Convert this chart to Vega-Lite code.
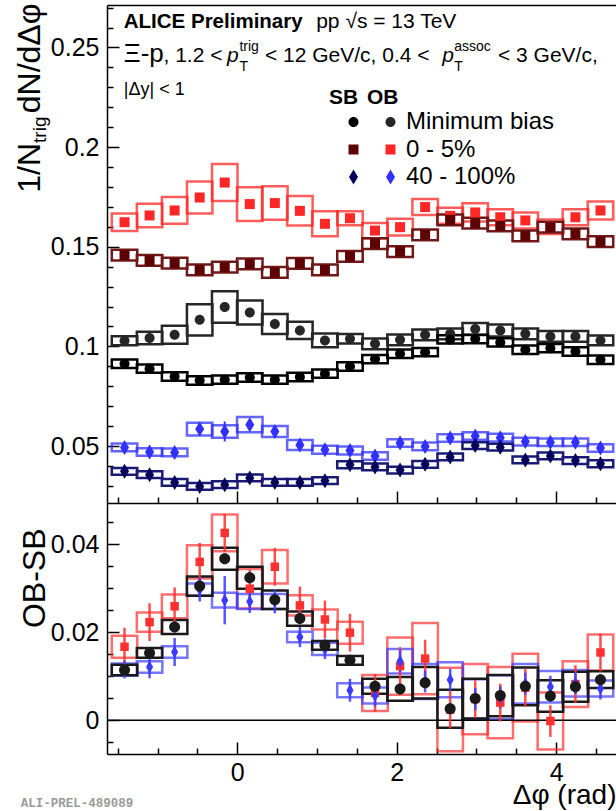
{
  "$schema": "https://vega.github.io/schema/vega-lite/v6.json",
  "padding": {"left": 12, "top": 3, "right": 0, "bottom": 0},
  "background": "white",
  "spacing": 0,
  "bounds": "flush",
  "resolve": {"scale": {"color": "independent", "shape": "independent"}},
  "datasets": {
    "sb": [
      {"c":"Minimum bias","phi":-1.4137,"y":0.0913,"e":0.0008,"s":0.0021},
      {"c":"Minimum bias","phi":-1.0996,"y":0.0888,"e":0.0008,"s":0.0021},
      {"c":"Minimum bias","phi":-0.7854,"y":0.0849,"e":0.0008,"s":0.0021},
      {"c":"Minimum bias","phi":-0.4712,"y":0.0829,"e":0.0008,"s":0.0021},
      {"c":"Minimum bias","phi":-0.1571,"y":0.0833,"e":0.0008,"s":0.0021},
      {"c":"Minimum bias","phi":0.1571,"y":0.0844,"e":0.0008,"s":0.0021},
      {"c":"Minimum bias","phi":0.4712,"y":0.0833,"e":0.0008,"s":0.0021},
      {"c":"Minimum bias","phi":0.7854,"y":0.0846,"e":0.0008,"s":0.0021},
      {"c":"Minimum bias","phi":1.0996,"y":0.0863,"e":0.0008,"s":0.0021},
      {"c":"Minimum bias","phi":1.4137,"y":0.0899,"e":0.0008,"s":0.0021},
      {"c":"Minimum bias","phi":1.7279,"y":0.0936,"e":0.0008,"s":0.0021},
      {"c":"Minimum bias","phi":2.0420,"y":0.0963,"e":0.0008,"s":0.0021},
      {"c":"Minimum bias","phi":2.3562,"y":0.0971,"e":0.0008,"s":0.0021},
      {"c":"Minimum bias","phi":2.6704,"y":0.1035,"e":0.0008,"s":0.0021},
      {"c":"Minimum bias","phi":2.9845,"y":0.1037,"e":0.0008,"s":0.0021},
      {"c":"Minimum bias","phi":3.2987,"y":0.1020,"e":0.0008,"s":0.0021},
      {"c":"Minimum bias","phi":3.6128,"y":0.0983,"e":0.0008,"s":0.0021},
      {"c":"Minimum bias","phi":3.9270,"y":0.0991,"e":0.0008,"s":0.0021},
      {"c":"Minimum bias","phi":4.2412,"y":0.0974,"e":0.0008,"s":0.0021},
      {"c":"Minimum bias","phi":4.5553,"y":0.0933,"e":0.0008,"s":0.0021},
      {"c":"0 - 5%","phi":-1.4137,"y":0.1458,"e":0.0012,"s":0.0027},
      {"c":"0 - 5%","phi":-1.0996,"y":0.1431,"e":0.0012,"s":0.0027},
      {"c":"0 - 5%","phi":-0.7854,"y":0.1418,"e":0.0012,"s":0.0027},
      {"c":"0 - 5%","phi":-0.4712,"y":0.1384,"e":0.0012,"s":0.0027},
      {"c":"0 - 5%","phi":-0.1571,"y":0.1398,"e":0.0012,"s":0.0027},
      {"c":"0 - 5%","phi":0.1571,"y":0.1414,"e":0.0012,"s":0.0027},
      {"c":"0 - 5%","phi":0.4712,"y":0.1371,"e":0.0012,"s":0.0027},
      {"c":"0 - 5%","phi":0.7854,"y":0.1416,"e":0.0012,"s":0.0027},
      {"c":"0 - 5%","phi":1.0996,"y":0.1384,"e":0.0012,"s":0.0027},
      {"c":"0 - 5%","phi":1.4137,"y":0.1451,"e":0.0012,"s":0.0027},
      {"c":"0 - 5%","phi":1.7279,"y":0.1515,"e":0.0012,"s":0.0027},
      {"c":"0 - 5%","phi":2.0420,"y":0.1476,"e":0.0012,"s":0.0027},
      {"c":"0 - 5%","phi":2.3562,"y":0.1560,"e":0.0012,"s":0.0027},
      {"c":"0 - 5%","phi":2.6704,"y":0.1635,"e":0.0012,"s":0.0027},
      {"c":"0 - 5%","phi":2.9845,"y":0.1618,"e":0.0012,"s":0.0027},
      {"c":"0 - 5%","phi":3.2987,"y":0.1605,"e":0.0012,"s":0.0027},
      {"c":"0 - 5%","phi":3.6128,"y":0.1555,"e":0.0012,"s":0.0027},
      {"c":"0 - 5%","phi":3.9270,"y":0.1598,"e":0.0012,"s":0.0027},
      {"c":"0 - 5%","phi":4.2412,"y":0.1565,"e":0.0012,"s":0.0027},
      {"c":"0 - 5%","phi":4.5553,"y":0.1526,"e":0.0012,"s":0.0027},
      {"c":"40 - 100%","phi":-1.4137,"y":0.0373,"e":0.0010,"s":0.0017},
      {"c":"40 - 100%","phi":-1.0996,"y":0.0356,"e":0.0010,"s":0.0017},
      {"c":"40 - 100%","phi":-0.7854,"y":0.0317,"e":0.0010,"s":0.0017},
      {"c":"40 - 100%","phi":-0.4712,"y":0.0297,"e":0.0010,"s":0.0017},
      {"c":"40 - 100%","phi":-0.1571,"y":0.0306,"e":0.0010,"s":0.0017},
      {"c":"40 - 100%","phi":0.1571,"y":0.0340,"e":0.0010,"s":0.0017},
      {"c":"40 - 100%","phi":0.4712,"y":0.0317,"e":0.0010,"s":0.0017},
      {"c":"40 - 100%","phi":0.7854,"y":0.0317,"e":0.0010,"s":0.0017},
      {"c":"40 - 100%","phi":1.0996,"y":0.0326,"e":0.0010,"s":0.0017},
      {"c":"40 - 100%","phi":1.4137,"y":0.0406,"e":0.0010,"s":0.0017},
      {"c":"40 - 100%","phi":1.7279,"y":0.0395,"e":0.0010,"s":0.0017},
      {"c":"40 - 100%","phi":2.0420,"y":0.0379,"e":0.0010,"s":0.0017},
      {"c":"40 - 100%","phi":2.3562,"y":0.0408,"e":0.0010,"s":0.0017},
      {"c":"40 - 100%","phi":2.6704,"y":0.0445,"e":0.0010,"s":0.0017},
      {"c":"40 - 100%","phi":2.9845,"y":0.0502,"e":0.0010,"s":0.0017},
      {"c":"40 - 100%","phi":3.2987,"y":0.0494,"e":0.0010,"s":0.0017},
      {"c":"40 - 100%","phi":3.6128,"y":0.0430,"e":0.0010,"s":0.0017},
      {"c":"40 - 100%","phi":3.9270,"y":0.0450,"e":0.0010,"s":0.0017},
      {"c":"40 - 100%","phi":4.2412,"y":0.0427,"e":0.0010,"s":0.0017},
      {"c":"40 - 100%","phi":4.5553,"y":0.0411,"e":0.0010,"s":0.0017}
    ],
    "ob": [
      {"c":"Minimum bias","phi":-1.4137,"y":0.1028,"e":0.0010,"s":0.0023},
      {"c":"Minimum bias","phi":-1.0996,"y":0.1042,"e":0.0010,"s":0.0031},
      {"c":"Minimum bias","phi":-0.7854,"y":0.1058,"e":0.0010,"s":0.0045},
      {"c":"Minimum bias","phi":-0.4712,"y":0.1133,"e":0.0010,"s":0.0078},
      {"c":"Minimum bias","phi":-0.1571,"y":0.1197,"e":0.0010,"s":0.0079},
      {"c":"Minimum bias","phi":0.1571,"y":0.1170,"e":0.0010,"s":0.0060},
      {"c":"Minimum bias","phi":0.4712,"y":0.1112,"e":0.0010,"s":0.0050},
      {"c":"Minimum bias","phi":0.7854,"y":0.1080,"e":0.0010,"s":0.0043},
      {"c":"Minimum bias","phi":1.0996,"y":0.1030,"e":0.0010,"s":0.0035},
      {"c":"Minimum bias","phi":1.4137,"y":0.1038,"e":0.0010,"s":0.0024},
      {"c":"Minimum bias","phi":1.7279,"y":0.1013,"e":0.0010,"s":0.0027},
      {"c":"Minimum bias","phi":2.0420,"y":0.1033,"e":0.0010,"s":0.0027},
      {"c":"Minimum bias","phi":2.3562,"y":0.1058,"e":0.0010,"s":0.0027},
      {"c":"Minimum bias","phi":2.6704,"y":0.1063,"e":0.0010,"s":0.0027},
      {"c":"Minimum bias","phi":2.9845,"y":0.1087,"e":0.0010,"s":0.0030},
      {"c":"Minimum bias","phi":3.2987,"y":0.1080,"e":0.0010,"s":0.0030},
      {"c":"Minimum bias","phi":3.6128,"y":0.1063,"e":0.0010,"s":0.0027},
      {"c":"Minimum bias","phi":3.9270,"y":0.1050,"e":0.0010,"s":0.0027},
      {"c":"Minimum bias","phi":4.2412,"y":0.1050,"e":0.0010,"s":0.0027},
      {"c":"Minimum bias","phi":4.5553,"y":0.1030,"e":0.0010,"s":0.0025},
      {"c":"0 - 5%","phi":-1.4137,"y":0.1623,"e":0.0017,"s":0.0044},
      {"c":"0 - 5%","phi":-1.0996,"y":0.1657,"e":0.0017,"s":0.0059},
      {"c":"0 - 5%","phi":-0.7854,"y":0.1682,"e":0.0017,"s":0.0067},
      {"c":"0 - 5%","phi":-0.4712,"y":0.1747,"e":0.0017,"s":0.0080},
      {"c":"0 - 5%","phi":-0.1571,"y":0.1822,"e":0.0017,"s":0.0093},
      {"c":"0 - 5%","phi":0.1571,"y":0.1714,"e":0.0017,"s":0.0085},
      {"c":"0 - 5%","phi":0.4712,"y":0.1719,"e":0.0017,"s":0.0084},
      {"c":"0 - 5%","phi":0.7854,"y":0.1680,"e":0.0017,"s":0.0074},
      {"c":"0 - 5%","phi":1.0996,"y":0.1615,"e":0.0017,"s":0.0063},
      {"c":"0 - 5%","phi":1.4137,"y":0.1643,"e":0.0017,"s":0.0035},
      {"c":"0 - 5%","phi":1.7279,"y":0.1581,"e":0.0017,"s":0.0038},
      {"c":"0 - 5%","phi":2.0420,"y":0.1598,"e":0.0017,"s":0.0042},
      {"c":"0 - 5%","phi":2.3562,"y":0.1699,"e":0.0017,"s":0.0040},
      {"c":"0 - 5%","phi":2.6704,"y":0.1655,"e":0.0017,"s":0.0040},
      {"c":"0 - 5%","phi":2.9845,"y":0.1672,"e":0.0017,"s":0.0046},
      {"c":"0 - 5%","phi":3.2987,"y":0.1648,"e":0.0017,"s":0.0040},
      {"c":"0 - 5%","phi":3.6128,"y":0.1632,"e":0.0017,"s":0.0040},
      {"c":"0 - 5%","phi":3.9270,"y":0.1600,"e":0.0017,"s":0.0036},
      {"c":"0 - 5%","phi":4.2412,"y":0.1648,"e":0.0017,"s":0.0040},
      {"c":"0 - 5%","phi":4.5553,"y":0.1682,"e":0.0017,"s":0.0045},
      {"c":"40 - 100%","phi":-1.4137,"y":0.0493,"e":0.0012,"s":0.0019},
      {"c":"40 - 100%","phi":-1.0996,"y":0.0470,"e":0.0012,"s":0.0019},
      {"c":"40 - 100%","phi":-0.7854,"y":0.0468,"e":0.0012,"s":0.0019},
      {"c":"40 - 100%","phi":-0.4712,"y":0.0585,"e":0.0012,"s":0.0032},
      {"c":"40 - 100%","phi":-0.1571,"y":0.0573,"e":0.0050,"s":0.0031},
      {"c":"40 - 100%","phi":0.1571,"y":0.0607,"e":0.0012,"s":0.0038},
      {"c":"40 - 100%","phi":0.4712,"y":0.0573,"e":0.0012,"s":0.0028},
      {"c":"40 - 100%","phi":0.7854,"y":0.0505,"e":0.0012,"s":0.0025},
      {"c":"40 - 100%","phi":1.0996,"y":0.0481,"e":0.0012,"s":0.0020},
      {"c":"40 - 100%","phi":1.4137,"y":0.0478,"e":0.0012,"s":0.0020},
      {"c":"40 - 100%","phi":1.7279,"y":0.0450,"e":0.0012,"s":0.0019},
      {"c":"40 - 100%","phi":2.0420,"y":0.0515,"e":0.0012,"s":0.0019},
      {"c":"40 - 100%","phi":2.3562,"y":0.0498,"e":0.0012,"s":0.0019},
      {"c":"40 - 100%","phi":2.6704,"y":0.0540,"e":0.0012,"s":0.0019},
      {"c":"40 - 100%","phi":2.9845,"y":0.0550,"e":0.0012,"s":0.0019},
      {"c":"40 - 100%","phi":3.2987,"y":0.0542,"e":0.0012,"s":0.0019},
      {"c":"40 - 100%","phi":3.6128,"y":0.0522,"e":0.0012,"s":0.0019},
      {"c":"40 - 100%","phi":3.9270,"y":0.0519,"e":0.0012,"s":0.0019},
      {"c":"40 - 100%","phi":4.2412,"y":0.0519,"e":0.0012,"s":0.0019},
      {"c":"40 - 100%","phi":4.5553,"y":0.0490,"e":0.0012,"s":0.0019}
    ],
    "diff": [
      {"c":"0 - 5%","phi":-1.4137,"y":0.0167,"e":0.0043,"s":0.0025},
      {"c":"0 - 5%","phi":-1.0996,"y":0.0223,"e":0.0043,"s":0.0022},
      {"c":"0 - 5%","phi":-0.7854,"y":0.0259,"e":0.0043,"s":0.0027},
      {"c":"0 - 5%","phi":-0.4712,"y":0.0360,"e":0.0043,"s":0.0038},
      {"c":"0 - 5%","phi":-0.1571,"y":0.0426,"e":0.0043,"s":0.0042},
      {"c":"0 - 5%","phi":0.1571,"y":0.0299,"e":0.0043,"s":0.0045},
      {"c":"0 - 5%","phi":0.4712,"y":0.0349,"e":0.0043,"s":0.0038},
      {"c":"0 - 5%","phi":0.7854,"y":0.0261,"e":0.0043,"s":0.0023},
      {"c":"0 - 5%","phi":1.0996,"y":0.0229,"e":0.0043,"s":0.0023},
      {"c":"0 - 5%","phi":1.4137,"y":0.0199,"e":0.0043,"s":0.0025},
      {"c":"0 - 5%","phi":1.7279,"y":0.0062,"e":0.0043,"s":0.0041},
      {"c":"0 - 5%","phi":2.0420,"y":0.0123,"e":0.0043,"s":0.0065},
      {"c":"0 - 5%","phi":2.3562,"y":0.0140,"e":0.0043,"s":0.0081},
      {"c":"0 - 5%","phi":2.6704,"y":0.0024,"e":0.0043,"s":0.0095},
      {"c":"0 - 5%","phi":2.9845,"y":0.0048,"e":0.0043,"s":0.0080},
      {"c":"0 - 5%","phi":3.2987,"y":0.0040,"e":0.0043,"s":0.0081},
      {"c":"0 - 5%","phi":3.6128,"y":0.0074,"e":0.0043,"s":0.0077},
      {"c":"0 - 5%","phi":3.9270,"y":-0.0002,"e":0.0036,"s":0.0065},
      {"c":"0 - 5%","phi":4.2412,"y":0.0082,"e":0.0043,"s":0.0052},
      {"c":"0 - 5%","phi":4.5553,"y":0.0154,"e":0.0043,"s":0.0041},
      {"c":"40 - 100%","phi":-1.4137,"y":0.0115,"e":0.0020,"s":0.0014},
      {"c":"40 - 100%","phi":-1.0996,"y":0.0121,"e":0.0026,"s":0.0013},
      {"c":"40 - 100%","phi":-0.7854,"y":0.0155,"e":0.0032,"s":0.0013},
      {"c":"40 - 100%","phi":-0.4712,"y":0.0297,"e":0.0027,"s":0.0014},
      {"c":"40 - 100%","phi":-0.1571,"y":0.0273,"e":0.0055,"s":0.0017},
      {"c":"40 - 100%","phi":0.1571,"y":0.0270,"e":0.0026,"s":0.0017},
      {"c":"40 - 100%","phi":0.4712,"y":0.0270,"e":0.0027,"s":0.0017},
      {"c":"40 - 100%","phi":0.7854,"y":0.0189,"e":0.0023,"s":0.0012},
      {"c":"40 - 100%","phi":1.0996,"y":0.0162,"e":0.0023,"s":0.0014},
      {"c":"40 - 100%","phi":1.4137,"y":0.0068,"e":0.0026,"s":0.0016},
      {"c":"40 - 100%","phi":1.7279,"y":0.0056,"e":0.0025,"s":0.0018},
      {"c":"40 - 100%","phi":2.0420,"y":0.0134,"e":0.0025,"s":0.0028},
      {"c":"40 - 100%","phi":2.3562,"y":0.0088,"e":0.0025,"s":0.0040},
      {"c":"40 - 100%","phi":2.6704,"y":0.0092,"e":0.0025,"s":0.0040},
      {"c":"40 - 100%","phi":2.9845,"y":0.0048,"e":0.0025,"s":0.0045},
      {"c":"40 - 100%","phi":3.2987,"y":0.0052,"e":0.0025,"s":0.0050},
      {"c":"40 - 100%","phi":3.6128,"y":0.0083,"e":0.0025,"s":0.0045},
      {"c":"40 - 100%","phi":3.9270,"y":0.0076,"e":0.0025,"s":0.0036},
      {"c":"40 - 100%","phi":4.2412,"y":0.0084,"e":0.0025,"s":0.0030},
      {"c":"40 - 100%","phi":4.5553,"y":0.0072,"e":0.0025,"s":0.0018},
      {"c":"Minimum bias","phi":-1.4137,"y":0.0114,"e":0.0012,"s":0.0012},
      {"c":"Minimum bias","phi":-1.0996,"y":0.0153,"e":0.0012,"s":0.0011},
      {"c":"Minimum bias","phi":-0.7854,"y":0.0212,"e":0.0012,"s":0.0016},
      {"c":"Minimum bias","phi":-0.4712,"y":0.0305,"e":0.0012,"s":0.0022},
      {"c":"Minimum bias","phi":-0.1571,"y":0.0367,"e":0.0012,"s":0.0025},
      {"c":"Minimum bias","phi":0.1571,"y":0.0324,"e":0.0012,"s":0.0025},
      {"c":"Minimum bias","phi":0.4712,"y":0.0274,"e":0.0012,"s":0.0021},
      {"c":"Minimum bias","phi":0.7854,"y":0.0231,"e":0.0012,"s":0.0016},
      {"c":"Minimum bias","phi":1.0996,"y":0.0170,"e":0.0012,"s":0.0010},
      {"c":"Minimum bias","phi":1.4137,"y":0.0136,"e":0.0012,"s":0.0010},
      {"c":"Minimum bias","phi":1.7279,"y":0.0077,"e":0.0012,"s":0.0017},
      {"c":"Minimum bias","phi":2.0420,"y":0.0071,"e":0.0012,"s":0.0027},
      {"c":"Minimum bias","phi":2.3562,"y":0.0085,"e":0.0012,"s":0.0036},
      {"c":"Minimum bias","phi":2.6704,"y":0.0026,"e":0.0012,"s":0.0043},
      {"c":"Minimum bias","phi":2.9845,"y":0.0049,"e":0.0012,"s":0.0045},
      {"c":"Minimum bias","phi":3.2987,"y":0.0056,"e":0.0012,"s":0.0047},
      {"c":"Minimum bias","phi":3.6128,"y":0.0077,"e":0.0012,"s":0.0043},
      {"c":"Minimum bias","phi":3.9270,"y":0.0055,"e":0.0012,"s":0.0036},
      {"c":"Minimum bias","phi":4.2412,"y":0.0076,"e":0.0012,"s":0.0034},
      {"c":"Minimum bias","phi":4.5553,"y":0.0092,"e":0.0012,"s":0.0019}
    ]
  },
  "vconcat": [
    {
      "width": 511,
      "height": 498,
      "resolve": {"axis": {"x": "independent", "y": "independent"}, "scale": {"color": "independent", "fill": "independent", "stroke": "independent", "shape": "independent"}},
      "layer": [
        {
          "data": {"name": "ob"},
          "transform": [{"calculate": "datum.y - datum.s", "as": "lo"}, {"calculate": "datum.y + datum.s", "as": "hi"}],
          "mark": {"type": "bar", "width": 25.5, "filled": false, "strokeWidth": 2.5, "clip": true},
          "encoding": {
            "x": {"field": "phi", "type": "quantitative", "scale": {"domain": [-1.5708, 4.7124], "nice": false, "zero": false},
                  "axis": {"orient": "bottom", "values": [0, 2, 4], "labels": false, "tickSize": -12, "title": null}},
            "y": {"field": "lo", "type": "quantitative", "scale": {"domain": [0.0214, 0.2713], "nice": false, "zero": false},
                  "axis": {"orient": "left", "values": [0.05, 0.1, 0.15, 0.2, 0.25], "format": ".2~f", "tickSize": -12, "labelPadding": 20,
                           "title": "dN/dΔφ", "titleX": -68, "titleY": -2, "titleAlign": "right", "titleAngle": 270, "titleBaseline": "alphabetic", "titleFontSize": 32}},
            "y2": {"field": "hi"},
            "color": {"field": "c", "type": "nominal", "scale": {"domain": ["Minimum bias", "0 - 5%", "40 - 100%"], "range": ["#262626", "#ff2626", "#3030ff"]}, "legend": null},
            "strokeOpacity": {"condition": {"test": "datum.c === 'Minimum bias'", "value": 1}, "value": 0.75}
          }
        },
        {
          "data": {"name": "sb"},
          "transform": [{"calculate": "datum.y - datum.s", "as": "lo"}, {"calculate": "datum.y + datum.s", "as": "hi"}],
          "mark": {"type": "bar", "width": 25.5, "fill": "transparent", "strokeWidth": 2.5, "clip": true},
          "encoding": {
            "x": {"field": "phi", "type": "quantitative",
                  "axis": {"orient": "bottom", "values": [-1.5, -1, -0.5, 0.5, 1, 1.5, 2.5, 3, 3.5, 4.5], "labels": false, "domain": false, "tickSize": -6, "title": null}},
            "y": {"field": "lo", "type": "quantitative",
                  "axis": {"orient": "left", "values": [0.03, 0.04, 0.06, 0.07, 0.08, 0.09, 0.11, 0.12, 0.13, 0.14, 0.16, 0.17, 0.18, 0.19, 0.21, 0.22, 0.23, 0.24, 0.26, 0.27],
                           "labels": false, "domain": false, "tickSize": -6,
                           "title": "1/N", "titleX": -68, "titleY": 137.4, "titleAlign": "right", "titleAngle": 270, "titleBaseline": "alphabetic", "titleFontSize": 32}},
            "y2": {"field": "hi"},
            "stroke": {"field": "c", "type": "nominal", "scale": {"domain": ["Minimum bias", "0 - 5%", "40 - 100%"], "range": ["#000000", "#701818", "#1a1a75"]}, "legend": null}
          }
        },
        {
          "data": {"name": "ob"},
          "transform": [{"calculate": "datum.y - datum.e", "as": "lo"}, {"calculate": "datum.y + datum.e", "as": "hi"}],
          "mark": {"type": "rule", "strokeWidth": 2},
          "encoding": {
            "x": {"field": "phi", "type": "quantitative",
                  "axis": {"orient": "top", "ticks": false, "labels": false, "domain": true, "title": null}},
            "y": {"field": "lo", "type": "quantitative",
                  "axis": {"orient": "left", "ticks": false, "labels": false, "domain": false,
                           "title": "trig", "titleX": -62, "titleY": 111, "titleAlign": "right", "titleAngle": 270, "titleBaseline": "alphabetic", "titleFontSize": 19}},
            "y2": {"field": "hi"},
            "color": {"field": "c", "type": "nominal", "scale": {"domain": ["Minimum bias", "0 - 5%", "40 - 100%"], "range": ["#262626", "#ff2626", "#3030ff"]}, "legend": null}
          }
        },
        {
          "data": {"name": "sb"},
          "transform": [{"calculate": "datum.y - datum.e", "as": "lo"}, {"calculate": "datum.y + datum.e", "as": "hi"}],
          "mark": {"type": "rule", "strokeWidth": 2},
          "encoding": {
            "x": {"field": "phi", "type": "quantitative", "axis": null},
            "y": {"field": "lo", "type": "quantitative", "axis": null},
            "y2": {"field": "hi"},
            "stroke": {"field": "c", "type": "nominal", "scale": {"domain": ["Minimum bias", "0 - 5%", "40 - 100%"], "range": ["#000000", "#5e0303", "#04045a"]}, "legend": null}
          }
        },
        {
          "data": {"name": "ob"},
          "mark": {"type": "point", "filled": true, "opacity": 1, "strokeWidth": 0, "size": 225},
          "encoding": {
            "x": {"field": "phi", "type": "quantitative", "axis": null},
            "y": {"field": "y", "type": "quantitative", "axis": null},
            "color": {"field": "c", "type": "nominal", "scale": {"domain": ["Minimum bias", "0 - 5%", "40 - 100%"], "range": ["#262626", "#ff2626", "#3030ff"]},
                      "legend": {"title": "OB", "orient": "none", "legendX": 260, "legendY": 82,
                                 "symbolSize": 225, "symbolOffset": 11.5, "labelOffset": 3.5,
                                 "labelFontSize": 24, "labelColor": "#000000", "labelFont": "Liberation Sans",
                                 "titleFontSize": 21, "titleFontWeight": "bold", "titleColor": "#000000", "titleFont": "Liberation Sans",
                                 "titlePadding": 2, "rowPadding": 3.5, "padding": 0, "symbolStrokeWidth": 0, "symbolOpacity": 1}},
            "shape": {"field": "c", "type": "nominal", "scale": {"domain": ["Minimum bias", "0 - 5%", "40 - 100%"],
                      "range": ["M-0.667,0A0.667,0.667,0,1,1,0.667,0A0.667,0.667,0,1,1,-0.667,0Z", "M-0.667,-0.667L0.667,-0.667L0.667,0.667L-0.667,0.667Z", "M0,-1L0.6,0L0,1L-0.6,0Z"]}}
          }
        },
        {
          "data": {"name": "sb"},
          "mark": {"type": "point", "filled": true, "opacity": 1, "strokeWidth": 0, "size": 225},
          "encoding": {
            "x": {"field": "phi", "type": "quantitative", "axis": null},
            "y": {"field": "y", "type": "quantitative", "axis": null},
            "fill": {"field": "c", "type": "nominal", "scale": {"domain": ["Minimum bias", "0 - 5%", "40 - 100%"], "range": ["#000000", "#5e0303", "#04045a"]},
                     "legend": {"title": "SB", "orient": "none", "legendX": 222, "legendY": 82,
                                "symbolSize": 225, "symbolOffset": 12.5, "labelOffset": 2,
                                "labelFontSize": 24, "labelOpacity": 0, "labelExpr": "' '", "labelFont": "Liberation Sans",
                                "titleFontSize": 21, "titleFontWeight": "bold", "titleColor": "#000000", "titleFont": "Liberation Sans",
                                "titlePadding": 2, "rowPadding": 3.5, "padding": 0, "symbolStrokeWidth": 0, "symbolOpacity": 1}},
            "shape": {"field": "c", "type": "nominal", "scale": {"domain": ["Minimum bias", "0 - 5%", "40 - 100%"],
                      "range": ["M-0.667,0A0.667,0.667,0,1,1,0.667,0A0.667,0.667,0,1,1,-0.667,0Z", "M-0.667,-0.667L0.667,-0.667L0.667,0.667L-0.667,0.667Z", "M0,-1L0.6,0L0,1L-0.6,0Z"]}}
          }
        },
        {"data": {"values": [{}]}, "mark": {"type": "text", "text": "ALICE Preliminary", "fontWeight": "bold", "fontSize": 20.5, "align": "left", "baseline": "alphabetic", "color": "#000000"},
         "encoding": {"x": {"datum": -1.4233, "axis": null}, "y": {"datum": 0.2598, "axis": null}}},
        {"data": {"values": [{}]}, "mark": {"type": "text", "text": "pp √s = 13 TeV", "fontSize": 21, "align": "left", "baseline": "alphabetic", "color": "#000000"},
         "encoding": {"x": {"datum": 0.9900, "axis": null}, "y": {"datum": 0.2598, "axis": null}}},
        {"data": {"values": [{}]}, "mark": {"type": "text", "text": "Ξ-p", "fontSize": 26, "align": "left", "baseline": "alphabetic", "color": "#000000"},
         "encoding": {"x": {"datum": -1.4233, "axis": null}, "y": {"datum": 0.2427, "axis": null}}},
        {"data": {"values": [{}]}, "mark": {"type": "text", "text": ", 1.2 <", "fontSize": 21, "align": "left", "baseline": "alphabetic", "color": "#000000"},
         "encoding": {"x": {"datum": -0.9253, "axis": null}, "y": {"datum": 0.2427, "axis": null}}},
        {"data": {"values": [{}]}, "mark": {"type": "text", "text": "p", "fontSize": 21, "fontStyle": "italic", "align": "left", "baseline": "alphabetic", "color": "#000000"},
         "encoding": {"x": {"datum": -0.1285, "axis": null}, "y": {"datum": 0.2427, "axis": null}}},
        {"data": {"values": [{}]}, "mark": {"type": "text", "text": "trig", "fontSize": 14, "align": "left", "baseline": "alphabetic", "color": "#000000"},
         "encoding": {"x": {"datum": 0.0276, "axis": null}, "y": {"datum": 0.2482, "axis": null}}},
        {"data": {"values": [{}]}, "mark": {"type": "text", "text": "T", "fontSize": 14, "align": "left", "baseline": "alphabetic", "color": "#000000"},
         "encoding": {"x": {"datum": 0.0276, "axis": null}, "y": {"datum": 0.2382, "axis": null}}},
        {"data": {"values": [{}]}, "mark": {"type": "text", "text": "< 12 GeV/c, 0.4 <", "fontSize": 21, "align": "left", "baseline": "alphabetic", "color": "#000000"},
         "encoding": {"x": {"datum": 0.3473, "axis": null}, "y": {"datum": 0.2427, "axis": null}}},
        {"data": {"values": [{}]}, "mark": {"type": "text", "text": "p", "fontSize": 21, "fontStyle": "italic", "align": "left", "baseline": "alphabetic", "color": "#000000"},
         "encoding": {"x": {"datum": 2.5700, "axis": null}, "y": {"datum": 0.2427, "axis": null}}},
        {"data": {"values": [{}]}, "mark": {"type": "text", "text": "assoc", "fontSize": 14, "align": "left", "baseline": "alphabetic", "color": "#000000"},
         "encoding": {"x": {"datum": 2.7213, "axis": null}, "y": {"datum": 0.2482, "axis": null}}},
        {"data": {"values": [{}]}, "mark": {"type": "text", "text": "T", "fontSize": 14, "align": "left", "baseline": "alphabetic", "color": "#000000"},
         "encoding": {"x": {"datum": 2.7213, "axis": null}, "y": {"datum": 0.2382, "axis": null}}},
        {"data": {"values": [{}]}, "mark": {"type": "text", "text": "< 3 GeV/c,", "fontSize": 21, "align": "left", "baseline": "alphabetic", "color": "#000000"},
         "encoding": {"x": {"datum": 3.2700, "axis": null}, "y": {"datum": 0.2427, "axis": null}}},
        {"data": {"values": [{}]}, "mark": {"type": "text", "text": "|Δy| < 1", "fontSize": 18, "align": "left", "baseline": "alphabetic", "color": "#000000"},
         "encoding": {"x": {"datum": -1.4233, "axis": null}, "y": {"datum": 0.2261, "axis": null}}}
      ]
    },
    {
      "width": 511,
      "height": 251,
      "resolve": {"axis": {"x": "independent", "y": "independent"}},
      "layer": [
        {
          "data": {"name": "diff"},
          "transform": [{"calculate": "datum.y - datum.s", "as": "lo"}, {"calculate": "datum.y + datum.s", "as": "hi"}],
          "mark": {"type": "bar", "width": 25.5, "filled": false, "strokeWidth": 2.5, "clip": true},
          "encoding": {
            "x": {"field": "phi", "type": "quantitative", "scale": {"domain": [-1.5708, 4.7124], "nice": false, "zero": false},
                  "axis": {"orient": "bottom", "values": [0, 2, 4], "format": "d", "tickSize": -12, "labelPadding": 18, "labelAngle": 0,
                           "title": "Δφ (rad)", "titleX": 509, "titleY": 49, "titleAlign": "right", "titleBaseline": "alphabetic", "titleFontSize": 28}},
            "y": {"field": "lo", "type": "quantitative", "scale": {"domain": [-0.0077, 0.0494], "nice": false, "zero": false},
                  "axis": {"orient": "left", "values": [0, 0.02, 0.04], "format": ".2~f", "tickSize": -12, "labelPadding": 20,
                           "title": "OB-SB", "titleX": -63, "titleY": 25, "titleAlign": "right", "titleAngle": 270, "titleBaseline": "alphabetic", "titleFontSize": 32}},
            "y2": {"field": "hi"},
            "color": {"field": "c", "type": "nominal", "scale": {"domain": ["Minimum bias", "0 - 5%", "40 - 100%"], "range": ["#1a1a1a", "#ff3030", "#3a3aff"]}, "legend": null},
            "strokeOpacity": {"condition": {"test": "datum.c === 'Minimum bias'", "value": 1}, "value": 0.7}
          }
        },
        {
          "data": {"values": [{}]},
          "mark": {"type": "rule", "color": "#000000", "strokeWidth": 1.5},
          "encoding": {"y": {"datum": 0, "axis": null}}
        },
        {
          "data": {"name": "diff"},
          "transform": [{"calculate": "datum.y - datum.e", "as": "lo"}, {"calculate": "datum.y + datum.e", "as": "hi"}],
          "mark": {"type": "rule", "strokeWidth": 2.5},
          "encoding": {
            "x": {"field": "phi", "type": "quantitative",
                  "axis": {"orient": "bottom", "values": [-1.5, -1, -0.5, 0.5, 1, 1.5, 2.5, 3, 3.5, 4.5], "labels": false, "domain": false, "tickSize": -6, "title": null}},
            "y": {"field": "lo", "type": "quantitative",
                  "axis": {"orient": "left", "values": [-0.005, 0.005, 0.01, 0.015, 0.025, 0.03, 0.035, 0.045], "labels": false, "domain": false, "tickSize": -6, "title": null}},
            "y2": {"field": "hi"},
            "color": {"field": "c", "type": "nominal", "legend": null},
            "strokeOpacity": {"condition": {"test": "datum.c === 'Minimum bias'", "value": 1}, "value": 0.85}
          }
        },
        {
          "data": {"name": "diff"},
          "mark": {"type": "point", "filled": true, "opacity": 1, "strokeWidth": 0, "size": 256},
          "encoding": {
            "x": {"field": "phi", "type": "quantitative", "axis": null},
            "y": {"field": "y", "type": "quantitative", "axis": null},
            "color": {"field": "c", "type": "nominal", "legend": null},
            "shape": {"field": "c", "type": "nominal", "scale": {"domain": ["Minimum bias", "0 - 5%", "40 - 100%"],
                      "range": ["M-0.69,0A0.69,0.69,0,1,1,0.69,0A0.69,0.69,0,1,1,-0.69,0Z", "M-0.53,-0.53L0.53,-0.53L0.53,0.53L-0.53,0.53Z", "M0,-0.81L0.44,0L0,0.81L-0.44,0Z"]}, "legend": null}
          }
        },
        {"data": {"values": [{}]}, "mark": {"type": "text", "text": "ALI-PREL-489089", "font": "Liberation Mono", "fontWeight": "bold", "fontSize": 12.5, "align": "left", "baseline": "alphabetic", "color": "#9a9a9a"},
         "encoding": {"x": {"datum": -2.7143, "axis": null}, "y": {"datum": -0.0198, "axis": null}}}
      ]
    }
  ],
  "config": {
    "view": {"stroke": null},
    "font": "Liberation Sans",
    "axis": {"labelFont": "Liberation Sans", "labelFontSize": 25, "labelColor": "#000000", "domainColor": "#000000", "domainWidth": 1.5,
             "tickColor": "#000000", "tickWidth": 1.5, "grid": false, "titleFont": "Liberation Sans", "titleColor": "#000000", "titleFontWeight": "normal"}
  }
}
